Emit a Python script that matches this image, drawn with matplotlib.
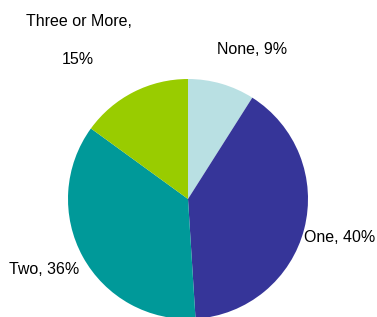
import matplotlib
matplotlib.use("Agg")
import matplotlib.pyplot as plt

categories = ["None", "One", "Two", "Three or More"]
shares = [9, 40, 36, 15]
colours = ["#b9e0e3", "#363599", "#009999", "#99cc00"]

fig = plt.figure(figsize=(3.77, 3.17), dpi=100)
ax = fig.add_axes([0, 0, 1, 1])
r = 120
cx, cy = 188, 317 - 199
ax.pie(shares, colors=colours, startangle=90, counterclock=False,
       radius=r, center=(cx, cy), wedgeprops=dict(linewidth=0))
ax.set_xlim(0, 377)
ax.set_ylim(0, 317)
ax.set_aspect("auto")
ax.axis("off")

# condensed-looking labels: narrow sans at a size that keeps the widths
txt = dict(fontsize=11.5, family="Liberation Sans", va="center", color="black")
ax.text(79, 317 - 22, "Three or More,", ha="center", **txt)
ax.text(78, 317 - 60, f"{shares[3]}%", ha="center", **txt)
ax.text(252, 317 - 50, f"{categories[0]}, {shares[0]}%", ha="center", **txt)
ax.text(375, 317 - 237, f"{categories[1]}, {shares[1]}%", ha="right", **txt)
ax.text(44, 317 - 270, f"{categories[2]}, {shares[2]}%", ha="center", **txt)

fig.savefig("out.png", dpi=100)
